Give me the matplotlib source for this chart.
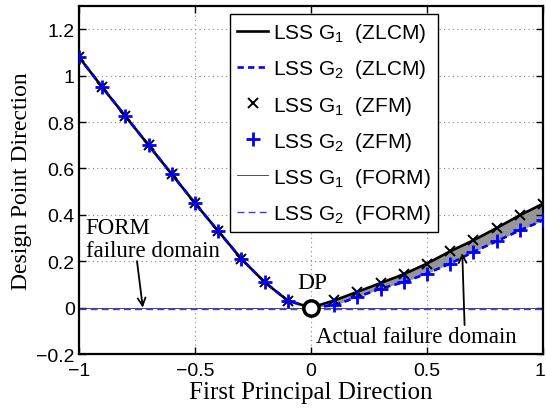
import numpy as np
import matplotlib
matplotlib.use("Agg")
import matplotlib.pyplot as plt
import matplotlib.transforms as mtransforms

plt.rcParams["font.family"] = ["Liberation Sans", "DejaVu Sans"]
plt.rcParams["mathtext.default"] = "regular"

# Sample points along the first principal direction
x_pts = [-1.0, -0.9, -0.8, -0.7, -0.6, -0.5, -0.4, -0.3, -0.2, -0.1, 0.0,
         0.1, 0.2, 0.3, 0.4, 0.5, 0.6, 0.7, 0.8, 0.9, 1.0]

# Limit-state surface G1 (design point direction)
g1_vals = [1.08, 0.95, 0.825, 0.70, 0.575, 0.45, 0.33, 0.21, 0.11, 0.03, 0.0,
           0.031, 0.068, 0.106, 0.144, 0.19, 0.243, 0.29, 0.343, 0.398, 0.448]

# Limit-state surface G2
g2_vals = [1.08, 0.95, 0.825, 0.70, 0.575, 0.45, 0.33, 0.21, 0.11, 0.03, 0.0,
           0.01, 0.046, 0.082, 0.11, 0.147, 0.19, 0.24, 0.286, 0.333, 0.376]

# FORM linearisations
form_x = [-1.0, 1.0]
form_g1 = [0.0, 0.0]
form_g2 = [-0.004, -0.004]

x = np.array(x_pts)
g1 = np.array(g1_vals)
g2 = np.array(g2_vals)

fig = plt.figure(figsize=(5.46, 4.10), dpi=100)
ax = fig.add_axes([0.1447, 0.134, 0.8498, 0.849])

right = x >= 0
ax.fill_between(x[right], g2[right], g1[right], color="#969696", lw=0, zorder=1)

ax.plot(x, g1, color="black", lw=1.9, zorder=3, label="LSS G$_1$  (ZLCM)")
ax.plot(x, g2, color="blue", lw=1.9, ls=(0, (2.4, 1.6)), zorder=3,
        label="LSS G$_2$  (ZLCM)")
ax.plot(x[x != 0], g1[x != 0], ls="none", marker="x", ms=7, mew=1.4,
        color="black", zorder=4, label="LSS G$_1$  (ZFM)")
ax.plot(x[x != 0], g2[x != 0], ls="none", marker="+", ms=10, mew=2,
        color="blue", zorder=4, label="LSS G$_2$  (ZFM)")
ax.plot(form_x, form_g1, color="#333333", lw=0.6, zorder=2,
        label="LSS G$_1$  (FORM)")
ax.plot(form_x, form_g2, color="#3c3cff", lw=1.0, ls=(0, (5, 3)), zorder=2,
        label="LSS G$_2$  (FORM)")

# design point
ax.plot([0], [0], marker="o", ms=11, mfc="white", mec="black", mew=2.5,
        zorder=6, clip_on=False)

ax.set_xlim(-1, 1)
ax.set_ylim(-0.2, 1.3)
ax.set_xticks([-1, -0.5, 0, 0.5, 1])
ax.set_xticklabels(["\u22121", "\u22120.5", "0", "0.5", "1"])
ax.set_yticks([-0.2, 0, 0.2, 0.4, 0.6, 0.8, 1.0, 1.2])
ax.set_yticklabels(["\u22120.2", "0", "0.2", "0.4", "0.6", "0.8", "1", "1.2"])
ax.tick_params(direction="in", top=True, right=True, labelsize=14,
               length=5, width=1)
ax.tick_params(axis="x", pad=6)
ax.tick_params(axis="y", pad=3)
ax.grid(True, ls=(0, (1, 3)), color="#888888", lw=0.8)
for s in ax.spines.values():
    s.set_linewidth(1.6)

# keep the last x tick label inside the canvas
last = ax.get_xticklabels()[-1]
last.set_transform(last.get_transform() +
                   mtransforms.ScaledTranslation(-3 / 100, 0, fig.dpi_scale_trans))

serif = ["Liberation Serif", "DejaVu Serif"]
ax.set_xlabel("First Principal Direction", family=serif, fontsize=18,
              labelpad=1)
ax.set_ylabel("Design Point Direction", family=serif, fontsize=17,
              labelpad=3)

ax.text(0.005, 0.11, "DP", family=serif, fontsize=17, ha="center",
        va="center")
ax.text(-0.972, 0.345, "FORM", family=serif, fontsize=16.5, ha="left",
        va="center")
ax.text(-0.972, 0.245, "failure domain", family=serif, fontsize=16.5,
        ha="left", va="center")
ax.annotate("", xy=(-0.725, 0.0), xytext=(-0.75, 0.2),
            arrowprops=dict(arrowstyle="->", color="black", lw=1.3,
                            mutation_scale=14, shrinkA=0, shrinkB=0))
ax.text(0.02, -0.125, "Actual failure domain", family=serif, fontsize=16.5,
        ha="left", va="center")
ax.annotate("", xy=(0.652, 0.235), xytext=(0.662, -0.075),
            arrowprops=dict(arrowstyle="->", color="black", lw=1.3,
                            mutation_scale=14, shrinkA=0, shrinkB=0))

leg = ax.legend(loc="upper left", bbox_to_anchor=(0.325, 0.977),
                fontsize=15, frameon=True, fancybox=False, framealpha=1,
                edgecolor="black", handlelength=1.5, handletextpad=0.2,
                labelspacing=0.63, borderpad=0.35, borderaxespad=0)
leg.get_frame().set_linewidth(1.0)
leg.set_zorder(10)

fig.savefig("out.png", dpi=100)
